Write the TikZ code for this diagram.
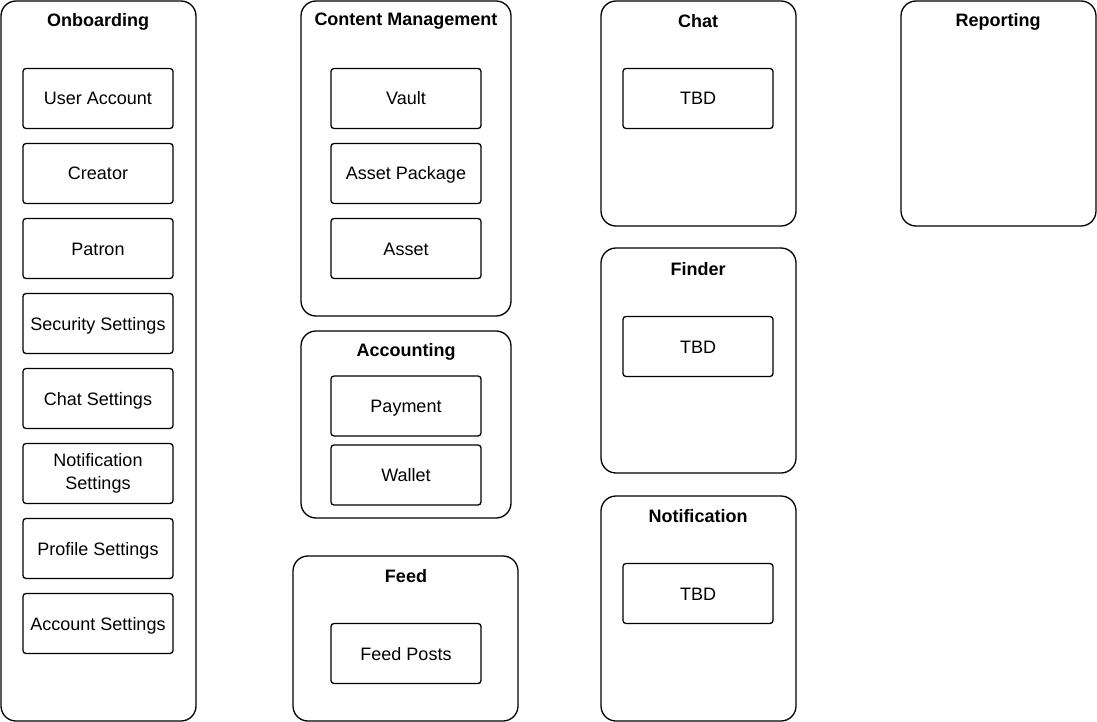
\documentclass[tikz,border=0pt]{standalone}
\usepackage{fontspec}
\setmainfont{Liberation Sans}
\begin{document}
\begin{tikzpicture}[x=1pt, y=-1pt,
group/.style={shape=rectangle, draw=black, line width=1.3pt, rounded corners=15pt},
box/.style={shape=rectangle, draw=black, line width=1.3pt, rounded corners=3pt, minimum width=150pt, minimum height=60pt, align=center, font=\fontsize{18}{23}\selectfont},
item/.style={box, text height=13pt, text depth=0pt},
title/.style={font=\fontsize{18}{22}\selectfont\bfseries}]
\useasboundingbox (0,0) rectangle (1097,722);
% groups
\node[group, minimum width=195pt, minimum height=720pt] (ob) at (98.5, 361) {};
\node[group, minimum width=210pt, minimum height=315pt] (cm) at (406, 158.5) {};
\node[group, minimum width=210pt, minimum height=187pt] (ac) at (406, 424.5) {};
\node[group, minimum width=225pt, minimum height=165pt] (fd) at (405.5, 638.5) {};
\node[group, minimum width=195pt, minimum height=225pt] (ch) at (698.5, 113.5) {};
\node[group, minimum width=195pt, minimum height=225pt] (fi) at (698.5, 360.5) {};
\node[group, minimum width=195pt, minimum height=225pt] (no) at (698.5, 608.5) {};
\node[group, minimum width=195pt, minimum height=225pt] (rp) at (998.5, 113.5) {};
\node[title] (obT) at (98, 21.5) {Onboarding};
\node[title] (cmT) at (406, 21.5) {Content Management};
\node[title] (acT) at (406, 351.5) {Accounting};
\node[title] (fdT) at (406, 576.5) {Feed};
\node[title] (chT) at (698, 21.5) {Chat};
\node[title] (fiT) at (698, 269.5) {Finder};
\node[title] (noT) at (698, 516.5) {Notification};
\node[title] (rpT) at (998, 21.5) {Reporting};
% onboarding
\node[item] (ob1) at (98, 98.5) {User Account};
\node[item] (ob2) at (98, 173.5) {Creator};
\node[item] (ob3) at (98, 248.5) {Patron};
\node[item] (ob4) at (98, 323.5) {Security Settings};
\node[item] (ob5) at (98, 398.5) {Chat Settings};
\node[box] (ob6) at (98, 473.5) {Notification\\Settings};
\node[item] (ob7) at (98, 548.5) {Profile Settings};
\node[item] (ob8) at (98, 623.5) {Account Settings};
% content, accounting, feed
\node[item] (cm1) at (406, 98.5) {Vault};
\node[item] (cm2) at (406, 173.5) {Asset Package};
\node[item] (cm3) at (406, 248.5) {Asset};
\node[item] (ac1) at (406, 406) {Payment};
\node[item] (ac2) at (406, 475) {Wallet};
\node[item] (fd1) at (406, 653.5) {Feed Posts};
% chat, finder, notification
\node[item] (ch1) at (698, 98.5) {TBD};
\node[item] (fi1) at (698, 346.5) {TBD};
\node[item] (no1) at (698, 593.5) {TBD};
\end{tikzpicture}
\end{document}
